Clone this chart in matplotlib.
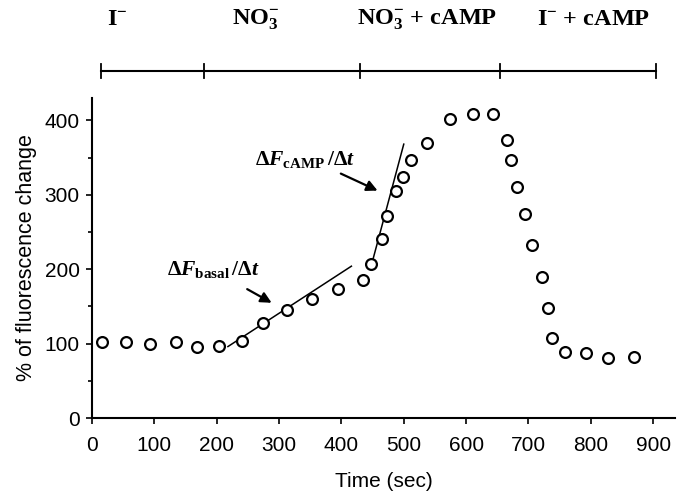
import matplotlib
matplotlib.use("Agg")
import matplotlib.pyplot as plt
from matplotlib.ticker import MultipleLocator
import matplotlib.transforms as mtransforms

plt.rcParams["font.family"] = ["Liberation Sans", "DejaVu Sans"]
plt.rcParams["mathtext.fontset"] = "custom"
plt.rcParams["mathtext.rm"] = "Liberation Serif:bold"
plt.rcParams["mathtext.it"] = "Liberation Serif:bold:italic"
plt.rcParams["mathtext.bf"] = "Liberation Serif:bold"

# measured points
time = [16, 54, 93, 134, 169, 204, 240, 275, 313, 353, 395, 435, 448, 465,
        473, 487, 498, 511, 537, 574, 611, 643, 665, 672, 682, 695, 705, 721,
        731, 737, 758, 792, 828, 870]
fluor = [102, 102, 100, 102, 95, 97, 104, 127, 145, 160, 173, 185, 207, 241,
         272, 305, 324, 347, 370, 402, 409, 409, 374, 347, 311, 274, 232, 190,
         148, 108, 89, 87, 80, 82]

# rate fits
basal_t = [218, 416]
basal_f = [96, 204]
camp_t = [448, 500]
camp_f = [205, 368]

# solution phases along the top
phase_edges = [15, 180, 430, 655, 905]
phase_labels = [r"$\mathrm{I^{-}}$", r"$\mathrm{NO_3^{-}}$",
                r"$\mathrm{NO_3^{-}}$ + cAMP", r"$\mathrm{I^{-}}$ + cAMP"]
label_x = [40, 262, 538, 805]

fig = plt.figure(figsize=(6.95, 4.92), dpi=100)
ax = fig.add_axes([0.1324, 0.1504, 0.8388, 0.6504])

ax.plot(time, fluor, "o", mfc="white", mec="black", ms=7.8, mew=1.6,
        linestyle="none", zorder=3)
ax.plot(basal_t, basal_f, color="black", lw=1.1, zorder=2)
ax.plot(camp_t, camp_f, color="black", lw=1.1, zorder=2)

ax.annotate("", xy=(292, 153), xytext=(245, 175),
            arrowprops=dict(arrowstyle="-|>", color="black", lw=1.6,
                            mutation_scale=16))
ax.annotate("", xy=(462, 304), xytext=(395, 330),
            arrowprops=dict(arrowstyle="-|>", color="black", lw=1.6,
                            mutation_scale=16))
ax.text(120, 200, r"$\Delta F_{\rm basal}\,/\Delta t$", fontsize=15.5,
        ha="left", va="center")
ax.text(261, 347, r"$\Delta F_{\rm cAMP}\,/\Delta t$", fontsize=15.5,
        ha="left", va="center")

ax.set_xlim(0, 935)
ax.set_ylim(0, 430)
ax.spines["top"].set_visible(False)
ax.spines["right"].set_visible(False)
ax.spines["left"].set_linewidth(1.5)
ax.spines["bottom"].set_linewidth(1.5)
ax.xaxis.set_major_locator(MultipleLocator(100))
ax.yaxis.set_major_locator(MultipleLocator(100))
ax.yaxis.set_minor_locator(MultipleLocator(50))
ax.tick_params(axis="x", direction="out", length=4, width=1.2, pad=9,
               labelsize=15)
ax.tick_params(axis="y", which="major", direction="out", length=4, width=1.2,
               pad=5, labelsize=15)
ax.tick_params(axis="y", which="minor", direction="out", length=3, width=1.2)
ax.set_xlabel("Time (sec)", fontsize=15, labelpad=12)
ax.set_ylabel("% of fluorescence change", fontsize=15.5, labelpad=5)

# phase bracket above the plot
trans = mtransforms.blended_transform_factory(ax.transData, ax.transAxes)
ax.plot([phase_edges[0], phase_edges[-1]], [1.084, 1.084], color="black",
        lw=1.5, transform=trans, clip_on=False)
for xe in phase_edges:
    ax.plot([xe, xe], [1.062, 1.106], color="black", lw=1.3,
            transform=trans, clip_on=False)
for lx, lab in zip(label_x, phase_labels):
    ax.text(lx, 1.245, lab, transform=trans, ha="center", va="center",
            fontsize=17.5, family="Liberation Serif", weight="bold")

fig.savefig("out.png", dpi=100)
